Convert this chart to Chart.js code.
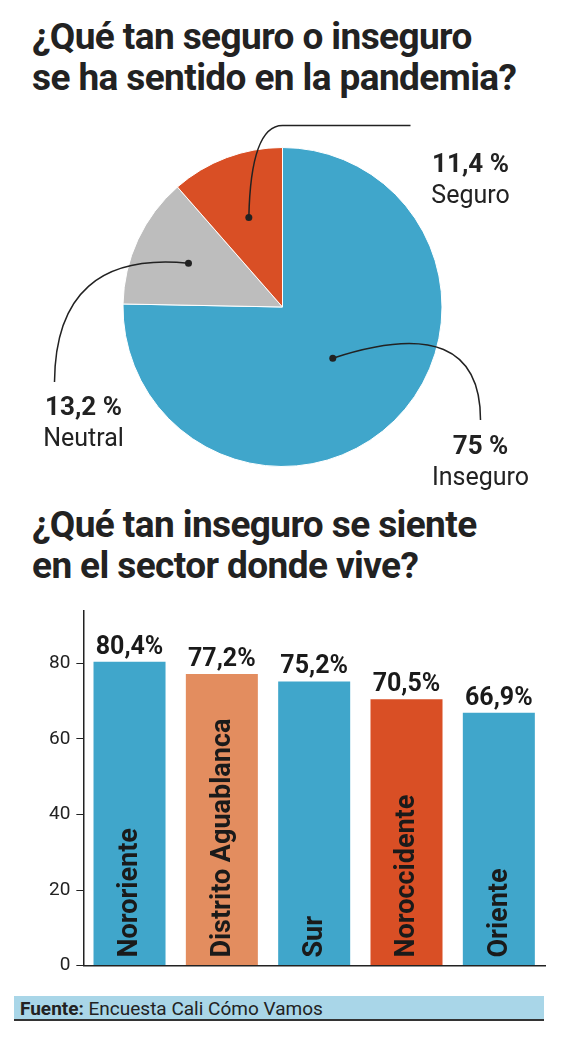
<!DOCTYPE html>
<html><head><meta charset="utf-8">
<script src="https://cdn.jsdelivr.net/npm/chart.js@4"></script>
<style>
body{margin:0;width:565px;height:1039px;background:#fff;position:relative;overflow:hidden;font-family:Roboto,sans-serif;color:#222}
.t{position:absolute;left:32px;font-weight:bold;font-size:37px;line-height:41px;letter-spacing:-0.6px}
#pw{position:absolute;left:0;top:110px;width:565px;height:390px}
#bw{position:absolute;left:0;top:593px;width:565px;height:390px}
#src{position:absolute;left:14px;top:996px;width:530px;height:25px;background:#a9d6e8;border-bottom:2px solid #333;font-size:19px;line-height:25px;padding-left:6px;box-sizing:border-box}
</style></head><body>
<div class="t" style="top:16px">¿Qué tan seguro o inseguro<br>se ha sentido en la pandemia?</div>
<div class="t" style="top:504px">¿Qué tan inseguro se siente<br>en el sector donde vive?</div>
<div id="pw"><canvas id="pie"></canvas></div>
<div id="bw"><canvas id="bar"></canvas></div>
<div id="src"><b>Fuente:</b> Encuesta Cali Cómo Vamos</div>
<script>
const pieLabels=['Inseguro','Neutral','Seguro'];
const pieValues=[75,13.2,11.4];
const pieText=['75 %','13,2 %','11,4 %'];
const pieColors=['#40a6cb','#bdbdbd','#d94f25'];
const barLabels=['Nororiente','Distrito Aguablanca','Sur','Noroccidente','Oriente'];
const barValues=[80.4,77.2,75.2,70.5,66.9];
const barText=['80,4%','77,2%','75,2%','70,5%','66,9%'];
const barColors=['#40a6cb','#e38d5f','#40a6cb','#d94f25','#40a6cb'];
const yTicks=[0,20,40,60,80];

const pieLbl={id:'pl',afterDraw(c){
 const ctx=c.ctx,m=c.getDatasetMeta(0);
 const cfg=[
  {f:0.45,cx:198,cy:3,ex:198,ey:113,tx:198,ty:140},
  {f:0.65,cx:-227,cy:-57,ex:-228,ey:75,tx:-199,ty:101},
  {f:0.6,cx:0,cy:0,ex:128,ey:0,tx:188,ty:-142}];
 m.data.forEach((a,i)=>{
  const ang=(a.startAngle+a.endAngle)/2,r=a.outerRadius*cfg[i].f;
  const x=a.x+Math.cos(ang)*r,y=a.y+Math.sin(ang)*r;const k=cfg[i];
  ctx.save();ctx.strokeStyle='#222';ctx.fillStyle='#222';ctx.lineWidth=1.5;
  ctx.beginPath();ctx.arc(x,y,3.5,0,7);ctx.fill();
  ctx.beginPath();ctx.moveTo(x,y);
  if(i==2){const ty=a.y-a.outerRadius-22;ctx.quadraticCurveTo(x+2,ty,a.x,ty);ctx.lineTo(a.x+k.ex,ty);}
  else ctx.quadraticCurveTo(a.x+k.cx,a.y+k.cy,a.x+k.ex,a.y+k.ey);
  ctx.stroke();
  ctx.textAlign='center';ctx.textBaseline='middle';
  ctx.font='bold 26px Roboto';ctx.fillText(pieText[i],a.x+k.tx,a.y+k.ty);
  ctx.font='25px Roboto';ctx.fillText(pieLabels[i],a.x+k.tx,a.y+k.ty+32);
  ctx.restore();});
}};
new Chart(document.getElementById('pie'),{type:'pie',
 data:{labels:pieLabels,datasets:[{data:pieValues,backgroundColor:pieColors,borderWidth:1,borderColor:'#fff'}]},
 options:{responsive:true,maintainAspectRatio:false,animation:false,layout:{padding:{top:37,bottom:33}},
  plugins:{legend:{display:false},tooltip:{enabled:false}}},plugins:[pieLbl]});

const barLbl={id:'bl',afterDatasetsDraw(c){
 const ctx=c.ctx,m=c.getDatasetMeta(0),base=c.scales.y.getPixelForValue(0);
 m.data.forEach((b,i)=>{
  ctx.save();ctx.fillStyle='#1a1a1a';ctx.textAlign='center';ctx.textBaseline='bottom';
  ctx.font='bold 25px Roboto';ctx.fillText(barText[i],b.x,b.y-2);
  ctx.translate(b.x,base-8);ctx.rotate(-Math.PI/2);ctx.textAlign='left';ctx.textBaseline='middle';
  ctx.font='bold 27px Roboto';ctx.fillText(barLabels[i],0,1);ctx.restore();});
}};
new Chart(document.getElementById('bar'),{type:'bar',
 data:{labels:barLabels,datasets:[{data:barValues,backgroundColor:barColors,barPercentage:0.78,categoryPercentage:1}]},
 options:{responsive:true,maintainAspectRatio:false,animation:false,layout:{padding:{left:43,right:20,top:10}},
  plugins:{legend:{display:false},tooltip:{enabled:false}},
  scales:{x:{ticks:{display:false},grid:{display:false},border:{color:'#222',width:1.5}},
   y:{min:0,max:94,afterBuildTicks(s){s.ticks=yTicks.map(v=>({value:v}));},
    ticks:{color:'#222',font:{size:19,family:'Roboto'},padding:6},
    grid:{drawOnChartArea:false,drawTicks:true,tickLength:7,color:'#222'},border:{color:'#222',width:1.5}}}},
 plugins:[barLbl]});
</script></body></html>
